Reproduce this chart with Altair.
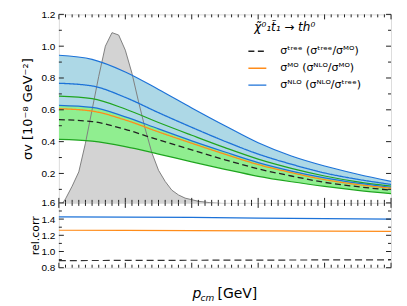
import altair as alt
import pandas as pd

# ---------------- data ----------------
x_grid = [0, 50, 100, 150, 200, 250, 300, 350, 400, 450, 500]
blue_top = [0.943, 0.917, 0.838, 0.728, 0.612, 0.500, 0.393, 0.310, 0.247, 0.195, 0.150]
nlo = [0.767, 0.750, 0.678, 0.582, 0.490, 0.402, 0.322, 0.258, 0.203, 0.163, 0.131]
blue_low = [0.628, 0.615, 0.556, 0.480, 0.405, 0.335, 0.268, 0.215, 0.172, 0.139, 0.113]
green_up = [0.686, 0.670, 0.605, 0.520, 0.440, 0.362, 0.290, 0.232, 0.184, 0.147, 0.120]
mo = [0.607, 0.592, 0.536, 0.461, 0.390, 0.321, 0.256, 0.205, 0.161, 0.130, 0.107]
tree = [0.538, 0.526, 0.477, 0.411, 0.348, 0.286, 0.229, 0.184, 0.144, 0.117, 0.095]
green_low = [0.414, 0.403, 0.369, 0.322, 0.273, 0.226, 0.182, 0.148, 0.119, 0.094, 0.073]

dist_x = [0, 5, 10, 20, 30, 40, 50, 60, 70, 80, 90, 100, 110, 120, 130, 140, 150,
          160, 170, 180, 190, 200, 210, 220, 230, 250, 300, 500]
dist_y = [0.0, 0.01, 0.04, 0.12, 0.21, 0.39, 0.60, 0.81, 1.00, 1.085, 1.07, 0.975,
          0.83, 0.65, 0.48, 0.33, 0.22, 0.15, 0.095, 0.065, 0.045, 0.035, 0.025,
          0.02, 0.015, 0.01, 0.005, 0.0]

ratio_x = [0, 100, 200, 300, 400, 500]
nlo_tree = [1.428, 1.425, 1.420, 1.413, 1.405, 1.400]
nlo_mo = [1.262, 1.260, 1.257, 1.254, 1.251, 1.249]
tree_mo = [0.888, 0.890, 0.892, 0.894, 0.896, 0.898]

labels = ["σᵗʳᵉᵉ  (σᵗʳᵉᵉ/σᴹᴼ)", "σᴹᴼ   (σᴺᴸᴼ/σᴹᴼ)", "σᴺᴸᴼ  (σᴺᴸᴼ/σᵗʳᵉᵉ)"]
legend_title = ["χ̃⁰₁t̃₁ → th⁰"]

x_major = [0, 100, 200, 300, 400, 500]
x_minor = [v for v in range(10, 500, 10) if v % 100 != 0]
top_y_major = [0.2, 0.4, 0.6, 0.8, 1.0, 1.2]
top_y_minor = [0.1, 0.3, 0.5, 0.7, 0.9, 1.1]
bot_y_major = [0.8, 1.0, 1.2, 1.4, 1.6]
bot_y_minor = [0.9, 1.1, 1.3, 1.5]

# ---------------- style ----------------
W, H1, H2 = 333, 189, 65
FONT = "DejaVu Sans"
BLUE = "#1c72d8"
GREEN = "#1fa51f"
ORANGE = "#ff8c1a"
DARK = "#222222"
colors = [DARK, ORANGE, BLUE]
dashes = [[6, 3.5], [1, 0], [1, 0]]

xs_top = alt.Scale(domain=[0, 500], nice=False, zero=False)
ys_top = alt.Scale(domain=[0.015, 1.2], nice=False, zero=False)
ys_bot = alt.Scale(domain=[0.8, 1.6], nice=False, zero=False)

band = pd.DataFrame({"x": x_grid, "bt": blue_top, "nlo": nlo, "bl": blue_low,
                     "gu": green_up, "mo": mo, "tree": tree, "gl": green_low})
dist = pd.DataFrame({"x": dist_x, "y": dist_y})
central = pd.concat([
    pd.DataFrame({"x": x_grid, "v": tree, "s": labels[0]}),
    pd.DataFrame({"x": x_grid, "v": mo, "s": labels[1]}),
    pd.DataFrame({"x": x_grid, "v": nlo, "s": labels[2]}),
])
ratios = pd.DataFrame({"x": ratio_x, "nt": nlo_tree, "nm": nlo_mo, "tm": tree_mo})

X_top = alt.X("x:Q", scale=xs_top, axis=None)

top_axis = alt.Axis(values=top_y_major, format=".1f", ticks=False, domain=False, grid=False,
                    labelPadding=4, labelFlush=False, labelOverlap=False,
                    title="σv [10⁻⁸ GeV⁻²]", titleFontSize=13, titleFontWeight="normal",
                    titlePadding=7, titleFont=FONT)


def YT(col):
    return alt.Y(col, scale=ys_top, axis=top_axis)


gray_fill = alt.Chart(dist).mark_area(color="#d3d3d3", clip=True).encode(
    x=X_top, y=YT("y:Q"), y2=alt.datum(0))
gray_line = alt.Chart(dist).mark_line(color="#808080", strokeWidth=1, clip=True).encode(
    x=X_top, y=YT("y:Q"))

base = alt.Chart(band)
green_band = base.mark_area(color="#90ee90", interpolate="monotone", clip=True).encode(
    x=X_top, y=YT("gl:Q"), y2="gu:Q")
blue_band = base.mark_area(color="#add8e6", interpolate="monotone", clip=True).encode(
    x=X_top, y=YT("bl:Q"), y2="bt:Q")


def edge(col, color):
    return base.mark_line(color=color, strokeWidth=1.2, interpolate="monotone", clip=True).encode(
        x=X_top, y=YT(f"{col}:Q"))


leg = alt.Legend(orient="none", legendX=189, legendY=27, title=None, symbolType="stroke",
                 symbolSize=324, symbolStrokeWidth=1.3, labelFont=FONT, labelFontSize=11,
                 labelColor="black", rowPadding=2, labelOffset=13, padding=0)
central_lines = alt.Chart(central).mark_line(strokeWidth=1.3, interpolate="monotone", clip=True).encode(
    x=X_top, y=YT("v:Q"),
    color=alt.Color("s:N", scale=alt.Scale(domain=labels, range=colors), legend=leg),
    strokeDash=alt.StrokeDash("s:N", scale=alt.Scale(domain=labels, range=dashes), legend=leg),
    detail="s:N")


def xticks(vals, size, height):
    d = alt.Chart(pd.DataFrame({"t": vals}))
    r1 = d.mark_rule(color=DARK, strokeWidth=1).encode(
        x=alt.X("t:Q", scale=xs_top, axis=None), y=alt.value(height), y2=alt.value(height - size))
    r2 = d.mark_rule(color=DARK, strokeWidth=1).encode(
        x=alt.X("t:Q", scale=xs_top, axis=None), y=alt.value(0), y2=alt.value(size))
    return r1 + r2


def yticks(vals, size, yenc):
    d = alt.Chart(pd.DataFrame({"t": vals}))
    r1 = d.mark_rule(color=DARK, strokeWidth=1).encode(
        y=yenc("t:Q"), x=alt.value(0), x2=alt.value(size))
    r2 = d.mark_rule(color=DARK, strokeWidth=1).encode(
        y=yenc("t:Q"), x=alt.value(W - size), x2=alt.value(W))
    return r1 + r2


title_text = alt.Chart(pd.DataFrame({"t": legend_title})).mark_text(
    font=FONT, fontSize=12, fontStyle="italic", align="left", baseline="alphabetic",
    color="black").encode(x=alt.value(196), y=alt.value(17), text="t:N")

top = alt.layer(
    gray_fill, green_band, blue_band, gray_line,
    edge("gu", GREEN), edge("gl", GREEN), edge("bt", BLUE), edge("bl", BLUE),
    central_lines,
    xticks(x_major, 5, H1), xticks(x_minor, 3, H1),
    yticks(top_y_major, 5, YT), yticks(top_y_minor, 3, YT),
    title_text,
).properties(width=W, height=H1)

# ---------------- bottom panel ----------------
bot_axis = alt.Axis(values=bot_y_major, format=".1f", ticks=False, domain=False, grid=False,
                    labelPadding=4, labelFlush=False, labelOverlap=False,
                    title="rel.corr", titleFontSize=11, titleFontWeight="normal",
                    titlePadding=1, titleFont=FONT)


def YB(col):
    return alt.Y(col, scale=ys_bot, axis=bot_axis)


X_bot = alt.X("x:Q", scale=xs_top,
              axis=alt.Axis(values=x_major, ticks=False, domain=False, grid=False, labelPadding=5,
                            labelFlush=False, labelOverlap=False, title=None))
rb = alt.Chart(ratios)
r_nt = rb.mark_line(color=BLUE, strokeWidth=1.2).encode(x=X_bot, y=YB("nt:Q"))
r_nm = rb.mark_line(color=ORANGE, strokeWidth=1.2).encode(x=X_bot, y=YB("nm:Q"))
r_tm = rb.mark_line(color="#333333", strokeWidth=1.2, strokeDash=[7, 4]).encode(
    x=X_bot, y=YB("tm:Q"))

p_txt = alt.Chart(pd.DataFrame({"t": ["p"]})).mark_text(
    font=FONT, fontSize=14, fontStyle="italic", align="left", baseline="alphabetic").encode(
    x=alt.value(134), y=alt.value(95), text="t:N")
cm_txt = alt.Chart(pd.DataFrame({"t": ["cm"]})).mark_text(
    font=FONT, fontSize=9, fontStyle="italic", align="left", baseline="alphabetic").encode(
    x=alt.value(142), y=alt.value(98), text="t:N")
gev_txt = alt.Chart(pd.DataFrame({"t": ["[GeV]"]})).mark_text(
    font=FONT, fontSize=14, align="left", baseline="alphabetic").encode(
    x=alt.value(159), y=alt.value(95), text="t:N")

bottom = alt.layer(
    r_tm, r_nm, r_nt,
    xticks(x_major, 5, H2), xticks(x_minor, 3, H2),
    yticks(bot_y_major, 5, YB), yticks(bot_y_minor, 3, YB),
    p_txt, cm_txt, gev_txt,
).properties(width=W, height=H2)

chart = alt.vconcat(top, bottom, spacing=0, bounds="flush").properties(
    padding={"left": 12, "top": 0, "right": 5, "bottom": 2}
).configure_view(stroke=DARK, strokeWidth=1.3).configure_axis(
    labelFont=FONT, labelFontSize=11, labelColor="black", titleColor="black",
    labelOverlap=False, labelFlush=False
).configure(background="white")

chart.save("out.html", embed_options={"renderer": "svg", "actions": False})
